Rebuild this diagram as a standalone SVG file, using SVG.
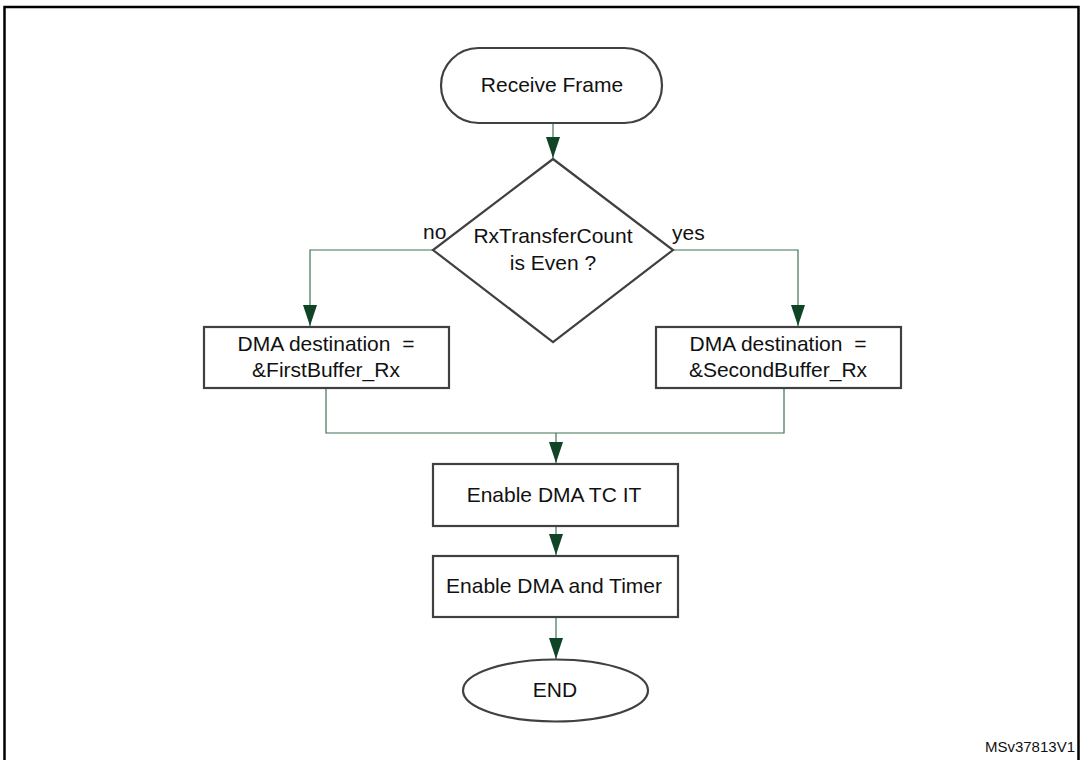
<svg xmlns="http://www.w3.org/2000/svg" width="1082" height="760" viewBox="0 0 1082 760">
  <style>
    .shape { fill: #ffffff; stroke: #404040; stroke-width: 2.2; }
    .lbl { font-family: "Liberation Sans", Arial, sans-serif; font-size: 21px; fill: #111111; text-anchor: middle; }
    .side { font-family: "Liberation Sans", Arial, sans-serif; font-size: 21px; fill: #111111; }
    .conn { fill: none; stroke: #3f7452; stroke-width: 1.2; }
    .ref { font-family: "Liberation Sans", Arial, sans-serif; font-size: 15px; fill: #111111; text-anchor: end; }
  </style>
  <defs>
    <marker id="arrow" viewBox="0 0 21 14" markerWidth="21" markerHeight="14" refX="21" refY="7" orient="auto" markerUnits="userSpaceOnUse">
      <path d="M0,0 L21,7 L0,14 z" fill="#0f4525"/>
    </marker>
  </defs>

  <rect id="frame" x="4.5" y="7" width="1074" height="800" fill="none" stroke="#000000" stroke-width="2.5"/>

  <g id="connectors">
    <path class="conn" d="M553,123 V158" marker-end="url(#arrow)"/>
    <path class="conn" d="M433,250 H310 V326" marker-end="url(#arrow)"/>
    <path class="conn" d="M673,250 H798 V326" marker-end="url(#arrow)"/>
    <path class="conn" d="M326,388 V433 H784 V388"/>
    <path class="conn" d="M556,433 V463" marker-end="url(#arrow)"/>
    <path class="conn" d="M556,526 V555" marker-end="url(#arrow)"/>
    <path class="conn" d="M556,617 V659" marker-end="url(#arrow)"/>
    <text class="side" x="423" y="239">no</text>
    <text class="side" x="672" y="240">yes</text>
  </g>

  <g id="receive-frame">
    <rect class="shape" x="441" y="48" width="221" height="75" rx="37.5" ry="37.5"/>
    <text class="lbl" x="552" y="92">Receive Frame</text>
  </g>

  <g id="decision">
    <polygon class="shape" points="553,159 673,250 553,342 433,250"/>
    <text class="lbl" x="553" y="243">RxTransferCount</text>
    <text class="lbl" x="553" y="270">is Even ?</text>
  </g>

  <g id="first-buffer">
    <rect class="shape" x="204" y="327" width="245" height="61"/>
    <text class="lbl" x="326" y="351" xml:space="preserve">DMA destination  =</text>
    <text class="lbl" x="326" y="377">&amp;FirstBuffer_Rx</text>
  </g>

  <g id="second-buffer">
    <rect class="shape" x="656" y="327" width="245" height="61"/>
    <text class="lbl" x="778" y="351" xml:space="preserve">DMA destination  =</text>
    <text class="lbl" x="778" y="377">&amp;SecondBuffer_Rx</text>
  </g>

  <g id="enable-tc">
    <rect class="shape" x="433" y="464" width="245" height="62"/>
    <text class="lbl" x="554" y="502">Enable DMA TC IT</text>
  </g>

  <g id="enable-dma-timer">
    <rect class="shape" x="433" y="556" width="245" height="61"/>
    <text class="lbl" x="554" y="593">Enable DMA and Timer</text>
  </g>

  <g id="end">
    <ellipse class="shape" cx="555.5" cy="690.5" rx="92.5" ry="31"/>
    <text class="lbl" x="555" y="697">END</text>
  </g>

  <text class="ref" x="1075" y="752">MSv37813V1</text>
</svg>
